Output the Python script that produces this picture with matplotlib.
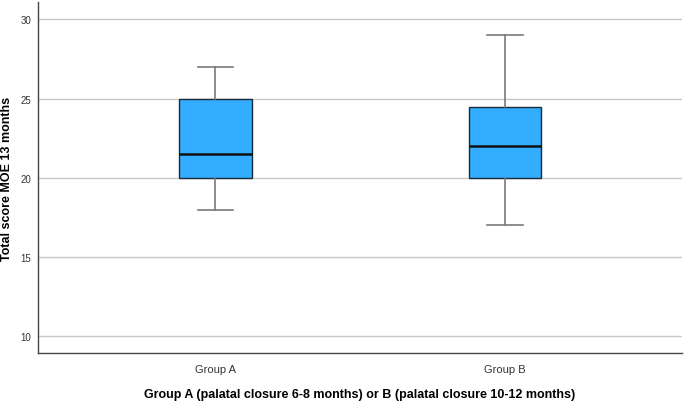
import matplotlib
matplotlib.use("Agg")
import matplotlib.pyplot as plt

plt.rcParams['font.family'] = ['Liberation Sans', 'DejaVu Sans']

groups = ['Group A', 'Group B']
whislo = [18, 17]
q1 = [20, 20]
med = [21.5, 22]
q3 = [25, 24.5]
whishi = [27, 29]
yticks = [10, 15, 20, 25, 30]

stats = []
for i, g in enumerate(groups):
    stats.append(dict(label=g, whislo=whislo[i], q1=q1[i], med=med[i],
                      q3=q3[i], whishi=whishi[i], fliers=[]))

fig = plt.figure(figsize=(6.85, 4.02), dpi=100)
ax = fig.add_axes([0.0562, 0.1187, 0.9388, 0.8738])

ax.set_axisbelow(True)
ax.yaxis.grid(True, color='#c8c8c8', linewidth=1.0)

ax.bxp(stats, positions=[1, 2], widths=0.25, patch_artist=True,
       showfliers=False,
       boxprops=dict(facecolor='#33adff', edgecolor='#1a2a3a', linewidth=1.0),
       medianprops=dict(color='#111111', linewidth=1.8),
       whiskerprops=dict(color='#7a7a7a', linewidth=1.2),
       capprops=dict(color='#7a7a7a', linewidth=1.2),
       capwidths=0.123)

ax.set_xlim(0.389, 2.611)
ax.set_ylim(8.93, 31.1)
ax.set_yticks(yticks)
ax.tick_params(axis='y', length=0, labelsize=7, labelcolor='#333333', pad=5)
ax.tick_params(axis='x', length=0, labelsize=8, labelcolor='#333333', pad=8)

for s in ['top', 'right']:
    ax.spines[s].set_visible(False)
for s in ['left', 'bottom']:
    ax.spines[s].set_color('#444444')
    ax.spines[s].set_linewidth(1.0)

ax.set_xlabel('Group A (palatal closure 6-8 months) or B (palatal closure 10-12 months)',
              fontsize=9, fontweight='bold', labelpad=10)
ax.set_ylabel('Total score MOE 13 months', fontsize=9, fontweight='bold')
ax.yaxis.set_label_coords(-0.039, 0.5)

fig.savefig('out.png', dpi=100)
